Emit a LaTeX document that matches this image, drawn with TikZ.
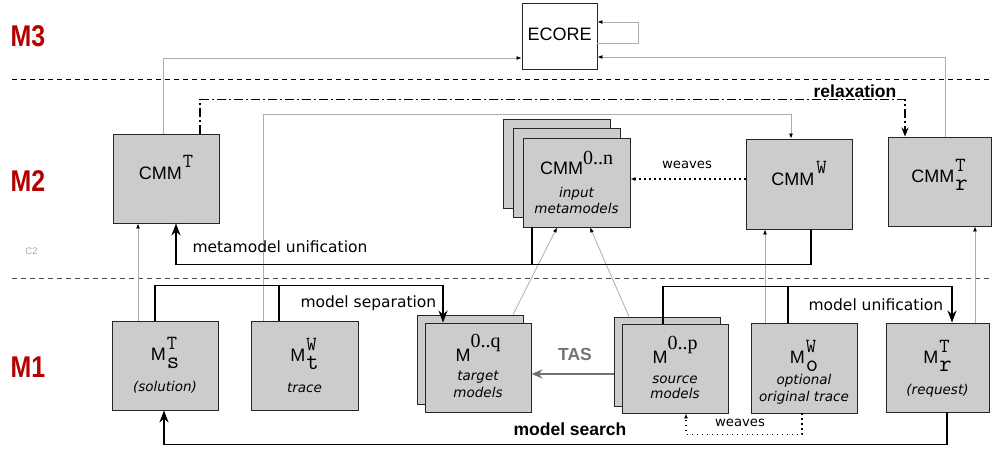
\documentclass[tikz,border=0pt]{standalone}
\usepackage{fontspec}
\newfontfamily\lsans{Liberation Sans}
\newfontfamily\dsans{DejaVu Sans}
\newfontfamily\lserif{Liberation Serif}
\usetikzlibrary{arrows.meta}
\definecolor{levelred}{RGB}{180,0,0}
\newcommand{\ttsup}[2][11pt]{\raisebox{#1}[0pt][0pt]{\fontsize{20}{20}\selectfont\ttfamily#2}}
\newcommand{\ttsub}[1]{\raisebox{-8pt}[0pt][0pt]{\fontsize{24}{24}\selectfont\ttfamily#1}}
\newcommand{\ttboth}[2]{\kern1pt\rlap{\ttsup{#1}}\ttsub{#2}}
\newcommand{\rmsup}[2][12pt]{\raisebox{#1}[0pt][0pt]{\lserif\fontsize{20}{20}\selectfont#2}}
\newcommand{\desc}[1]{{\dsans\itshape\fontsize{13.5}{16}\selectfont#1}}
\newcommand{\lift}[1]{\rule{0pt}{#1}}
\begin{document}
\begin{tikzpicture}[x=1pt,y=-1pt]
\useasboundingbox (0,0) rectangle (992,452);
\tikzset{
  box/.style={draw=black!85,fill=gray!40,line width=0.9pt,minimum width=106pt,minimum height=89pt,
    inner sep=0pt,align=center,font=\lsans\fontsize{18}{16}\selectfont},
  oneline/.style={text height=12pt,text depth=10pt},
  level/.style={font=\lsans\bfseries\fontsize{30}{30}\selectfont,text=levelred,xscale=0.83,transform shape},
  sep/.style={line width=0.9pt,dash pattern=on 5pt off 4pt},
  meta/.style={gray!65,line width=0.8pt,-{Latex[length=5pt,width=4pt,color=black]}},
  bigline/.style={line width=1.8pt},
  bigarrow/.style={line width=1.8pt,-{Stealth[length=12pt,width=9pt]}},
  weave/.style={line width=1.4pt,dash pattern=on 1.5pt off 3.5pt,-{Latex[length=5pt,width=4pt]}},
  lbl/.style={font=\dsans\fontsize{15.5}{15.5}\selectfont},
  boldlbl/.style={font=\lsans\bfseries\fontsize{17.5}{17.5}\selectfont}
}
% levels
\node[level] (m3) at (28,36) {M3};
\node[level] (m2) at (28,181) {M2};
\node[level] (m1) at (28,367) {M1};
\node[font=\lsans\fontsize{9.5}{9.5}\selectfont,text=gray!70] (c2) at (31.5,251.5) {C2};
\draw[sep] (12,79) -- (992,79);
\draw[sep,black!70] (12,278) -- (992,278);
% M3 and M2
\node[box,fill=white,minimum width=75pt,minimum height=66pt,text depth=4pt] (ecore) at (559.5,36) {ECORE};
\node[box,oneline] (cmmt) at (166,178.5) {CMM\kern1pt\ttsup[12pt]{T}};
\node[box,minimum width=107pt] (cmmnb1) at (556.5,163.5) {};
\node[box,minimum width=107pt] (cmmnb2) at (566.5,172.5) {};
\node[box,minimum width=107pt] (cmmn) at (576.5,182.5) {\lift{23.5pt}CMM\rmsup[10pt]{0..n}\\[7pt]\desc{input}\\\desc{metamodels}};
\node[box,oneline,minimum height=90pt] (cmmw) at (799,184) {CMM\kern2pt\ttsup[12pt]{W}};
\node[box,oneline,minimum width=103pt] (cmmr) at (939.5,181.5) {CMM\ttboth{T}{r}};
% M1
\node[box] (mst) at (165,365.5) {\lift{23pt}M\ttboth{T}{s}\\[15.5pt]\desc{(solution)}};
\node[box,minimum width=107pt] (mtw) at (304.5,365.5) {\lift{23pt}M\ttboth{W}{t}\\[15.5pt]\desc{trace}};
\node[box] (mqb) at (470,359.5) {};
\node[box] (mq) at (478,367.5) {\lift{24.5pt}M\rmsup[14pt]{0..q}\\[3pt]\desc{target}\\[1pt]\desc{models}};
\node[box] (mpb) at (667,361.5) {};
\node[box] (mp) at (675,368.5) {\lift{25.5pt}M\rmsup[14pt]{0..p}\\[4pt]\desc{source}\\[-1pt]\desc{models}};
\node[box,minimum height=90pt] (mow) at (804,368) {\lift{31.5pt}M\ttboth{W}{o}\\[5pt]\desc{optional}\\[1pt]\desc{original trace}};
\node[box,minimum width=103pt] (mrt) at (937.5,367.5) {\lift{25.5pt}M\ttboth{T}{r}\\[15pt]\desc{(request)}};
% conformance
\draw[meta] ([xshift=-3pt]cmmt.north) |- ([yshift=-22pt]ecore.west);
\draw[meta] ([yshift=-7pt]ecore.east) -- ++(41,0) |- ([yshift=14pt]ecore.east);
\draw[meta] ([xshift=5.5pt]cmmr.north) |- ([yshift=-21pt]ecore.east);
\draw[meta] ([xshift=-41.5pt]mtw.north) -- ++(0,-206) -| ([xshift=-8pt]cmmw.north);
\draw[meta] ([xshift=-27pt]mst.north) -- ([xshift=-27pt]mst.north |- cmmt.south);
\draw[meta] ([xshift=43pt]mqb.north) -- ([xshift=-19.5pt]cmmn.south);
\draw[meta] ([xshift=-38pt]mpb.north) -- ([xshift=13.5pt]cmmn.south);
\draw[meta] ([xshift=-39pt]mow.north) -- ([xshift=-39pt]mow.north |- cmmw.south);
\draw[meta] ([xshift=37.5pt]mrt.north) -- ([xshift=37.5pt]mrt.north |- cmmr.south);
% relaxation
\draw[line width=1.5pt,dash pattern=on 9pt off 3pt on 2pt off 3pt,-{Stealth[length=9pt,width=7pt]}]
  ([xshift=34pt]cmmt.north) -- ++(0,-34) -| ([xshift=-34.5pt]cmmr.north);
\node[boldlbl] (relax) at (855,91) {relaxation};
% metamodel unification
\draw[bigarrow] ([xshift=12pt]cmmw.south) -- ++(0,35) -| ([xshift=10pt]cmmt.south);
\draw[bigline] ([xshift=-44.5pt]cmmn.south) -- ++(0,37);
\node[lbl,anchor=west] (munif) at (189,247) {metamodel unification};
\draw[weave] ([yshift=5pt]cmmw.west) -- ([yshift=5pt]cmmw.west -| cmmn.east);
\node[font=\dsans\fontsize{13.2}{13.2}\selectfont] (weavetop) at (687,165) {weaves};
% model separation
\draw[bigarrow] ([xshift=-10pt]mst.north) -- ++(0,-35) -| ([xshift=-35pt]mq.north);
\draw[bigline] ([xshift=-25.5pt]mtw.north) -- ++(0,-35);
\node[lbl,anchor=west] (msep) at (297,303) {model separation};
% model unification
\draw[bigarrow] ([xshift=-12pt]mp.north) -- ++(0,-37) -| ([xshift=14.5pt]mrt.north);
\draw[bigline] ([xshift=-16pt]mow.north) -- ++(0,-36);
\node[lbl,anchor=west] (munion) at (805,305) {model unification};
% TAS
\draw[black!55,line width=1.8pt,-{Stealth[length=11pt,width=9pt]}] ([yshift=-12.5pt]mpb.west) -- ([yshift=-12.5pt]mpb.west -| mq.east);
\node[boldlbl,text=black!55] (tas) at (575,354) {TAS};
% model search
\draw[bigarrow] ([xshift=9.5pt]mrt.south) -- ++(0,32) -| ([xshift=-1pt]mst.south);
\node[boldlbl] (msearch) at (570,429) {model search};
\draw[weave] ([xshift=-2pt]mow.south) -- ++(0,21) -| ([xshift=11pt]mp.south);
\node[font=\dsans\fontsize{13.2}{13.2}\selectfont] (weavebot) at (740,423) {weaves};
\end{tikzpicture}
\end{document}
